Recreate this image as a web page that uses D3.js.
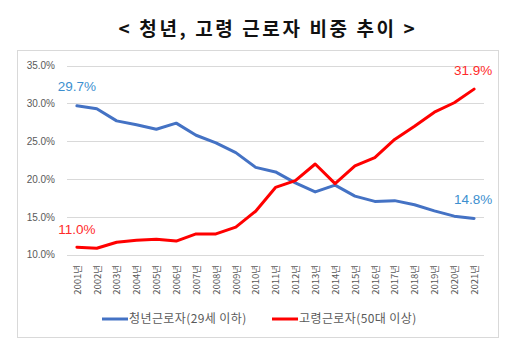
<!DOCTYPE html>
<html>
<head>
<meta charset="utf-8">
<script src="https://cdn.jsdelivr.net/npm/d3@7"></script>
<style>
  html, body { margin: 0; padding: 0; background: #fff; }
  svg { display: block; }
</style>
</head>
<body>
<svg id="chart" width="515" height="342"></svg>
<script>
// Share of young (≤29) and older (50+) workers, 2001–2021 (%)
const years = d3.range(2001, 2022).map(y => y + "년");
const youth = [29.7, 29.3, 27.7, 27.2, 26.6, 27.4, 25.8, 24.8, 23.5, 21.55, 20.95, 19.5, 18.3, 19.2, 17.75, 17.05, 17.15, 16.6, 15.8, 15.1, 14.8];
const older = [11.0, 10.85, 11.65, 11.9, 12.05, 11.8, 12.75, 12.75, 13.65, 15.75, 18.9, 19.8, 22.0, 19.4, 21.75, 22.85, 25.25, 27.0, 28.85, 30.1, 31.9];
const yTicks = [10, 15, 20, 25, 30, 35];
const seriesNames = ["청년근로자(29세 이하)", "고령근로자(50대 이상)"];
const seriesColors = ["#4472c4", "#ff0000"];
const labelColors = ["#3d8fcf", "#ff2a2a"];

const svg = d3.select("#chart");
const font = "'Noto Sans CJK KR', 'Noto Sans', sans-serif";

// Title
svg.append("text")
  .attr("x", 268).attr("y", 36)
  .attr("text-anchor", "middle")
  .attr("font-family", font)
  .attr("font-weight", 700)
  .attr("font-size", 19)
  .attr("letter-spacing", 2.6)
  .attr("fill", "#111")
  .text("< 청년, 고령 근로자 비중 추이 >");

// Chart frame
svg.append("rect")
  .attr("x", 17.5).attr("y", 50.5)
  .attr("width", 481).attr("height", 287)
  .attr("fill", "#fff")
  .attr("stroke", "#d9d9d9");

const x = d3.scalePoint().domain(years).range([67, 484]).padding(0.5);
const y = d3.scaleLinear().domain([10, 35]).range([254.7, 65.7]);

// Gridlines
svg.append("g")
  .selectAll("line")
  .data(yTicks)
  .join("line")
  .attr("x1", 67).attr("x2", 484)
  .attr("y1", d => Math.round(y(d)) + 0.5)
  .attr("y2", d => Math.round(y(d)) + 0.5)
  .attr("stroke", "#d9d9d9")
  .attr("stroke-width", 1);

// Y axis labels
const yAxis = d3.axisLeft(y).tickValues(yTicks).tickSize(0).tickPadding(0)
  .tickFormat(d => d.toFixed(1) + "%");
const gy = svg.append("g").attr("transform", "translate(55,0)").call(yAxis);
gy.select(".domain").remove();
gy.selectAll("text")
  .attr("font-family", "'Liberation Sans', Arial, sans-serif")
  .attr("font-size", 10)
  .attr("fill", "#595959");

// X axis labels (rotated)
const xAxis = d3.axisBottom(x).tickSize(0).tickPadding(0);
const gx = svg.append("g").attr("transform", "translate(0,265)").call(xAxis);
gx.select(".domain").remove();
gx.selectAll("text")
  .attr("font-family", font)
  .attr("font-size", 9.5)
  .attr("fill", "#595959")
  .attr("text-anchor", "end")
  .attr("dy", "0.35em")
  .attr("transform", "rotate(-90)")
  .attr("x", 0).attr("y", 0);

// Lines
const line = d3.line().x((d, i) => x(years[i])).y(d => y(d));
[youth, older].forEach((s, k) => {
  svg.append("path")
    .datum(s)
    .attr("fill", "none")
    .attr("stroke", seriesColors[k])
    .attr("stroke-width", 3)
    .attr("stroke-linejoin", "round")
    .attr("stroke-linecap", "round")
    .attr("d", line);
});

// End-point value labels
const valLabel = (val, xPos, yPos, color) =>
  svg.append("text")
    .attr("x", xPos).attr("y", yPos)
    .attr("text-anchor", "middle")
    .attr("font-family", "'Liberation Sans', Arial, sans-serif")
    .attr("font-size", 13.5)
    .attr("fill", color)
    .text(val.toFixed(1) + "%");
valLabel(youth[0], x(years[0]), y(youth[0]) - 15, labelColors[0]);
valLabel(older[0], x(years[0]), y(older[0]) - 13, labelColors[1]);
valLabel(older[20], x(years[20]) - 1, y(older[20]) - 14, labelColors[1]);
valLabel(youth[20], x(years[20]) - 1, y(youth[20]) - 14, labelColors[0]);

// Legend
const legend = [{ x0: 102, name: seriesNames[0], c: seriesColors[0] },
                { x0: 272, name: seriesNames[1], c: seriesColors[1] }];
legend.forEach(l => {
  svg.append("line")
    .attr("x1", l.x0).attr("x2", l.x0 + 26)
    .attr("y1", 319).attr("y2", 319)
    .attr("stroke", l.c).attr("stroke-width", 3);
  svg.append("text")
    .attr("x", l.x0 + 27).attr("y", 319)
    .attr("dy", "0.35em")
    .attr("font-family", font)
    .attr("font-size", 12)
    .attr("letter-spacing", 0.4)
    .attr("fill", "#595959")
    .text(l.name);
});
</script>
</body>
</html>
